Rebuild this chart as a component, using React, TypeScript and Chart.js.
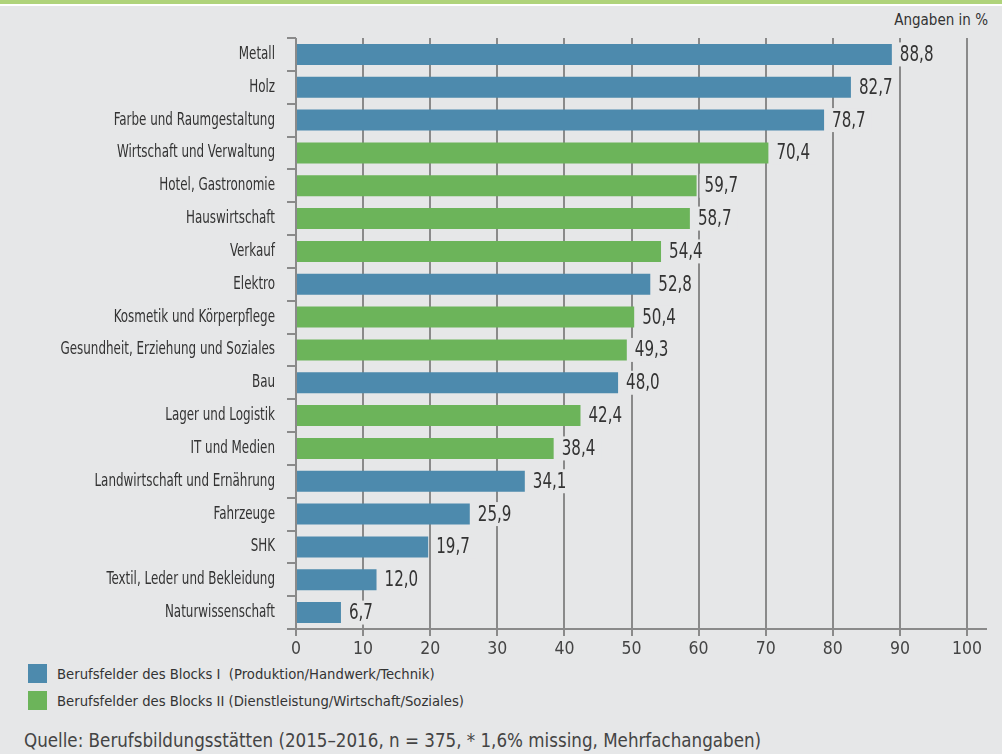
import React, { useEffect, useRef } from "react";
import { Chart, registerables } from "chart.js";

Chart.register(...registerables);

const categories = [
  "Metall",
  "Holz",
  "Farbe und Raumgestaltung",
  "Wirtschaft und Verwaltung",
  "Hotel, Gastronomie",
  "Hauswirtschaft",
  "Verkauf",
  "Elektro",
  "Kosmetik und Körperpflege",
  "Gesundheit, Erziehung und Soziales",
  "Bau",
  "Lager und Logistik",
  "IT und Medien",
  "Landwirtschaft und Ernährung",
  "Fahrzeuge",
  "SHK",
  "Textil, Leder und Bekleidung",
  "Naturwissenschaft",
];
const values = [88.8, 82.7, 78.7, 70.4, 59.7, 58.7, 54.4, 52.8, 50.4, 49.3, 48.0, 42.4, 38.4, 34.1, 25.9, 19.7, 12.0, 6.7];
const blocks = [1, 1, 1, 2, 2, 2, 2, 1, 2, 2, 1, 2, 2, 1, 1, 1, 1, 1];
const xTicks = [0, 10, 20, 30, 40, 50, 60, 70, 80, 90, 100];
const legendLabels = [
  "Berufsfelder des Blocks I  (Produktion/Handwerk/Technik)",
  "Berufsfelder des Blocks II (Dienstleistung/Wirtschaft/Soziales)",
];
const unitLabel = "Angaben in %";
const sourceText = "Quelle: Berufsbildungsstätten (2015–2016, n = 375, * 1,6% missing, Mehrfachangaben)";

const BLUE = "#4d8aad";
const GREEN = "#6cb45a";
const BG = "#e6e7e8";
const GRID = "#8a8a8a";
const TEXT = "#333333";
const FONT = '"DejaVu Sans Condensed", "Liberation Sans Narrow", sans-serif';

const fmt = (v: number) => v.toFixed(1).replace(".", ",");

const valueLabelPlugin = {
  id: "valueLabels",
  afterDatasetsDraw(chart: any) {
    const ctx = chart.ctx;
    const meta = chart.getDatasetMeta(0);
    ctx.save();
    ctx.font = `21px ${FONT}`;
    ctx.textBaseline = "middle";
    ctx.textAlign = "left";
    meta.data.forEach((bar: any, i: number) => {
      const txt = fmt(values[i]);
      const w = ctx.measureText(txt).width * 0.8;
      const x0 = bar.x + 3;
      ctx.fillStyle = BG;
      ctx.fillRect(x0, bar.y - 12, w + 11, 24);
      ctx.fillStyle = TEXT;
      ctx.save();
      ctx.translate(bar.x + 8, bar.y + 1);
      ctx.scale(0.8, 1);
      ctx.fillText(txt, 0, 0);
      ctx.restore();
    });
    ctx.restore();
  },
};

const categoryLabelPlugin = {
  id: "categoryLabels",
  afterDraw(chart: any) {
    const ctx = chart.ctx;
    const ys = chart.scales.y;
    const a = chart.chartArea;
    ctx.save();
    ctx.font = `17px ${FONT}`;
    ctx.fillStyle = TEXT;
    ctx.textBaseline = "middle";
    ctx.textAlign = "right";
    categories.forEach((c, i) => {
      const y = ys.getPixelForValue(i);
      ctx.save();
      ctx.translate(a.left - 21, y);
      ctx.scale(0.78, 1);
      ctx.fillText(c, 0, 0);
      ctx.restore();
    });
    ctx.restore();
  },
};

const axisLinePlugin = {
  id: "axisLine",
  afterDraw(chart: any) {
    const ctx = chart.ctx;
    const a = chart.chartArea;
    const ys = chart.scales.y;
    ctx.save();
    ctx.strokeStyle = GRID;
    ctx.lineWidth = 2;
    ctx.beginPath();
    ctx.moveTo(a.left - 9, a.bottom);
    ctx.lineTo(a.right + 20, a.bottom);
    ctx.stroke();
    for (let i = 0; i <= categories.length; i++) {
      const y = Math.round(ys.getPixelForValue(i - 0.5));
      ctx.beginPath();
      ctx.moveTo(a.left - 9, y);
      ctx.lineTo(a.left, y);
      ctx.stroke();
    }
    ctx.restore();
  },
};

export default function App() {
  const ref = useRef<HTMLCanvasElement>(null);
  useEffect(() => {
    document.body.style.margin = "0";
    const chart = new Chart(ref.current!, {
      type: "bar",
      data: {
        labels: categories,
        datasets: [
          {
            data: values,
            backgroundColor: blocks.map((b) => (b === 1 ? BLUE : GREEN)),
            barPercentage: 0.64,
            categoryPercentage: 1,
          },
        ],
      },
      options: {
        indexAxis: "y",
        animation: false,
        responsive: false,
        maintainAspectRatio: false,
        layout: { padding: { top: 8, right: 35, left: 0, bottom: 0 } },
        plugins: { legend: { display: false }, tooltip: { enabled: false } },
        scales: {
          x: {
            min: 0,
            max: 100,
            afterBuildTicks: (s: any) => {
              s.ticks = xTicks.map((v) => ({ value: v }));
            },
            afterFit: (s: any) => {
              s.height = 31;
            },
            grid: { color: GRID, lineWidth: 2, tickLength: 7, drawTicks: true },
            border: { display: false },
            ticks: { color: "#444", font: { family: FONT, size: 17.5 }, padding: 3 },
          },
          y: {
            afterFit: (s: any) => {
              s.width = 296;
              s.paddingTop = 0;
              s.paddingBottom = 0;
            },
            grid: { display: false, drawTicks: false },
            border: { display: false },
            ticks: { display: false },
          },
        },
      },
      plugins: [valueLabelPlugin, categoryLabelPlugin, axisLinePlugin],
    });
    return () => chart.destroy();
  }, []);

  return (
    <div style={{ position: "relative", width: 1002, height: 754, background: BG, overflow: "hidden", fontFamily: FONT }}>
      <div style={{ position: "absolute", left: 0, top: 0, width: 1002, height: 4, background: "#afd37a" }} />
      <div style={{ position: "absolute", left: 0, top: 4, width: 1002, height: 2, background: "#ffffff" }} />
      <div style={{ position: "absolute", right: 14, top: 10, fontSize: 15, color: TEXT, lineHeight: "20px" }}>{unitLabel}</div>
      <canvas ref={ref} width={1002} height={630} style={{ position: "absolute", left: 0, top: 30, width: 1002, height: 630 }} />
      {legendLabels.map((l, i) => (
        <div key={i} style={{ position: "absolute", left: 28, top: 664 + i * 27, height: 19, display: "flex", alignItems: "center" }}>
          <div style={{ width: 19, height: 19, background: i === 0 ? BLUE : GREEN, marginRight: 10 }} />
          <span style={{ fontSize: 14.7, color: TEXT, whiteSpace: "pre" }}>{l}</span>
        </div>
      ))}
      <div style={{ position: "absolute", left: 24, top: 729, fontSize: 18.6, color: "#444", lineHeight: "24px", whiteSpace: "pre" }}>{sourceText}</div>
    </div>
  );
}
